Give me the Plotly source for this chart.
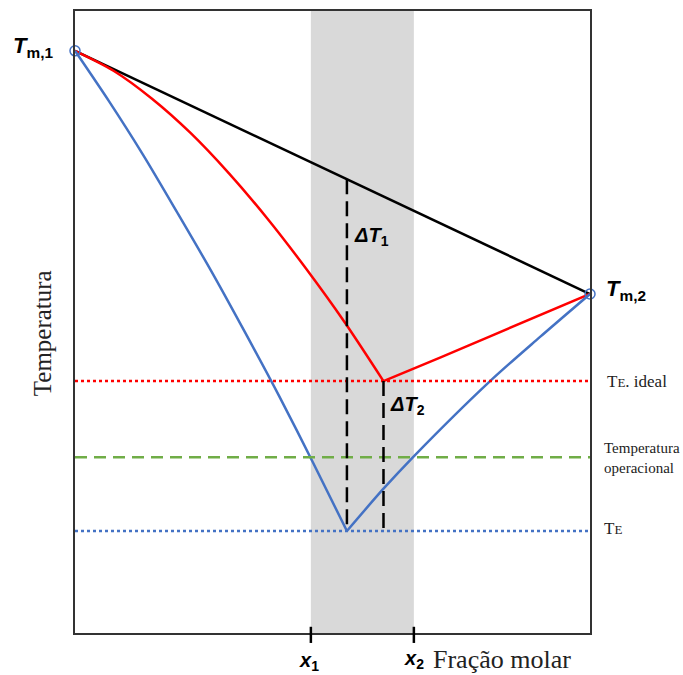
import plotly.graph_objects as go

# Melting points of the pure components (x = 0 and x = 1)
x_pure = [0.0, 1.0]
t_melt = [0.936, 0.545]

# Composition window and eutectic points
x1, x2 = 0.458, 0.658
x_eut, t_eut = 0.528, 0.164          # real eutectic
x_eut_id, t_eut_id = 0.599, 0.405    # ideal eutectic
t_oper = 0.2825                      # operating temperature

# Ideal liquidus (red)
red_left_x = [0.0, 0.0748, 0.1495, 0.2243, 0.299, 0.3738, 0.4485, 0.5233, 0.599]
red_left_y = [0.936, 0.904, 0.859, 0.804, 0.739, 0.666, 0.586, 0.500, 0.405]
red_right_x = [0.599, 0.710, 0.806, 1.0]
red_right_y = [0.405, 0.443, 0.477, 0.545]

# Real liquidus (blue)
blue_left_x = [0.0, 0.0659, 0.1319, 0.1978, 0.2638, 0.3297, 0.3957, 0.4616, 0.528]
blue_left_y = [0.936, 0.855, 0.769, 0.677, 0.583, 0.484, 0.382, 0.275, 0.164]
blue_right_x = [0.528, 0.599, 0.656, 0.806, 0.903, 1.0]
blue_right_y = [0.164, 0.232, 0.2825, 0.405, 0.476, 0.545]

RED = "#ff0000"
BLUE = "#4472c4"
GREEN = "#70ad47"
SANS = "Liberation Sans, Arial, sans-serif"
SERIF = "Liberation Serif, Times New Roman, serif"

fig = go.Figure()

# Straight line joining the two melting points
fig.add_trace(go.Scatter(x=x_pure, y=t_melt, mode="lines",
                         line=dict(color="black", width=2.5), hoverinfo="skip"))

for xs, ys, col in [(red_left_x, red_left_y, RED), (red_right_x, red_right_y, RED),
                    (blue_left_x, blue_left_y, BLUE), (blue_right_x, blue_right_y, BLUE)]:
    fig.add_trace(go.Scatter(x=xs, y=ys, mode="lines", line_shape="spline",
                             line=dict(color=col, width=2.5, smoothing=0.8),
                             hoverinfo="skip"))

# Open circles at the melting points
fig.add_trace(go.Scatter(x=x_pure, y=t_melt, mode="markers", cliponaxis=False,
                         marker=dict(symbol="circle-open", size=10, color=BLUE,
                                     line=dict(width=1.5)), hoverinfo="skip"))

# Black line value at the real eutectic composition
t_black_at_eut = t_melt[0] + (t_melt[1] - t_melt[0]) * x_eut

shapes = [
    # shaded composition window
    dict(type="rect", xref="x", yref="paper", x0=x1, x1=x2, y0=0, y1=1,
         fillcolor="#d9d9d9", line_width=0, layer="below"),
    # horizontal reference temperatures
    dict(type="line", xref="x", yref="y", x0=0, x1=1, y0=t_eut_id, y1=t_eut_id,
         line=dict(color=RED, width=2.5, dash="dot")),
    dict(type="line", xref="x", yref="y", x0=0, x1=1, y0=t_oper, y1=t_oper,
         line=dict(color=GREEN, width=2.5, dash="12px,7px")),
    dict(type="line", xref="x", yref="y", x0=0, x1=1, y0=t_eut, y1=t_eut,
         line=dict(color=BLUE, width=2.5, dash="dot")),
    # temperature differences
    dict(type="line", xref="x", yref="y", x0=x_eut, x1=x_eut, y0=t_black_at_eut, y1=t_eut,
         line=dict(color="black", width=2.5, dash="15px,7px")),
    dict(type="line", xref="x", yref="y", x0=x_eut_id, x1=x_eut_id, y0=t_eut_id, y1=t_eut,
         line=dict(color="black", width=2.5, dash="15px,7px")),
]
# tick marks crossing the bottom axis at x1 and x2
for xv in (x1, x2):
    shapes.append(dict(type="line", xref="paper", yref="paper", x0=xv, x1=xv,
                       y0=-0.016, y1=0.01, line=dict(color="black", width=2.5)))

M = "middle"
annotations = [
    dict(x=0, y=t_melt[0], xref="x", yref="y", xanchor="right", yanchor=M, xshift=-20,
         yshift=4, showarrow=False, text="<b><i>T</i><sub>m,1</sub></b>",
         font=dict(family=SANS, size=22, color="black")),
    dict(x=1, y=t_melt[1], xref="x", yref="y", xanchor="left", yanchor=M, xshift=14,
         yshift=4, showarrow=False, text="<b><i>T</i><sub>m,2</sub></b>",
         font=dict(family=SANS, size=22, color="black")),
    dict(x=x_eut, y=0.638, xref="x", yref="y", xanchor="left", yanchor=M, xshift=5,
         showarrow=False, text="<b><i>ΔT</i><sub>1</sub></b>",
         font=dict(family=SANS, size=20, color="black")),
    dict(x=x_eut_id, y=0.365, xref="x", yref="y", xanchor="left", yanchor=M, xshift=5,
         showarrow=False, text="<b><i>ΔT</i><sub>2</sub></b>",
         font=dict(family=SANS, size=20, color="black")),
    dict(x=x1, y=-0.046, xref="x", yref="paper", xanchor="center", yanchor=M, xshift=-2,
         showarrow=False, text="<b><i>x</i><sub>1</sub></b>",
         font=dict(family=SANS, size=20, color="black")),
    dict(x=x2, y=-0.043, xref="x", yref="paper", xanchor="center", yanchor=M, showarrow=False,
         text="<b><i>x</i><sub>2</sub></b>", font=dict(family=SANS, size=20, color="black")),
    dict(x=0.829, y=-0.043, xref="paper", yref="paper", xanchor="center", yanchor=M,
         showarrow=False, text="Fração molar", font=dict(family=SERIF, size=26, color="#222")),
    dict(x=-0.064, y=0.482, xref="paper", yref="paper", xanchor="center", yanchor=M,
         textangle=-90, showarrow=False, text="Temperatura",
         font=dict(family=SERIF, size=25, color="#222")),
    dict(x=1, y=t_eut_id, xref="paper", yref="y", xanchor="left", yanchor=M, xshift=15,
         showarrow=False, text="T<span style='font-size:13px'>E</span>. ideal",
         font=dict(family=SERIF, size=17, color="#222")),
    dict(x=1, y=t_oper, xref="paper", yref="y", xanchor="left", yanchor=M, xshift=12,
         yshift=-1, showarrow=False, align="left", text="Temperatura<br>operacional",
         font=dict(family=SERIF, size=15, color="#222")),
    dict(x=1, y=t_eut, xref="paper", yref="y", xanchor="left", yanchor=M, xshift=12,
         yshift=2, showarrow=False, text="T<span style='font-size:13px'>E</span>",
         font=dict(family=SERIF, size=17, color="#222")),
]

axis_common = dict(showgrid=False, zeroline=False, showticklabels=False, ticks="",
                   showline=True, mirror=True, linecolor="#333", linewidth=1.5)

fig.update_layout(
    width=683, height=675,
    margin=dict(l=75, r=93, t=9, b=42),
    paper_bgcolor="white", plot_bgcolor="white",
    showlegend=False,
    xaxis=dict(range=[0, 1], **axis_common),
    yaxis=dict(range=[0, 1], **axis_common),
    shapes=shapes,
    annotations=annotations,
)

fig.write_html("out.html")
